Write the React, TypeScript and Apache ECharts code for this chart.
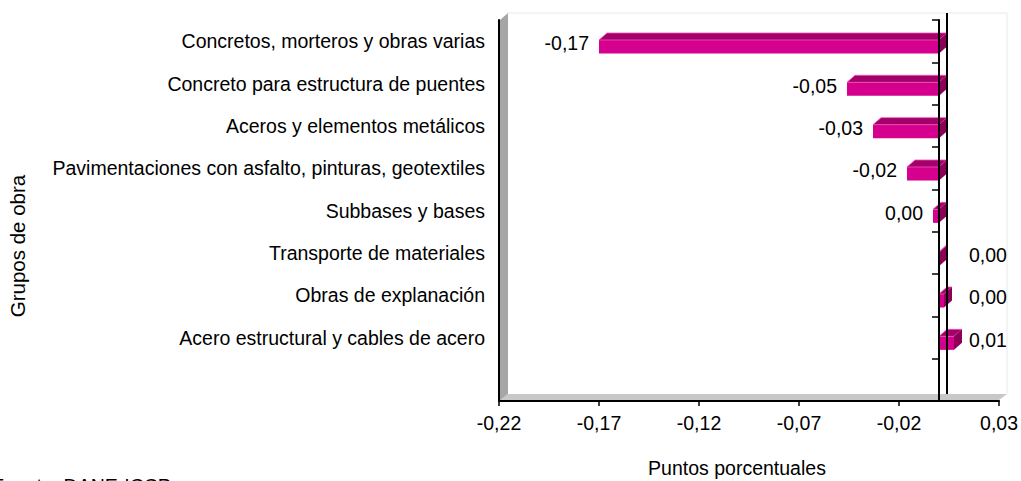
import React, { useEffect, useRef } from "react";
import * as echarts from "echarts";

// ---- data ----
const categories: string[] = [
  "Concretos, morteros y obras varias",
  "Concreto para estructura de puentes",
  "Aceros y elementos metálicos",
  "Pavimentaciones con asfalto, pinturas, geotextiles",
  "Subbases y bases",
  "Transporte de materiales",
  "Obras de explanación",
  "Acero estructural y cables de acero",
  "",
];
const values: number[] = [-0.17, -0.046, -0.033, -0.016, -0.003, 0.0005, 0.0025, 0.0075];
const xMin = -0.22;
const xMax = 0.03;
const xStep = 0.05;
const xTitle = "Puntos porcentuales";
const yTitle = "Grupos de obra";
const sourceNote = "Fuente: DANE-ICCP";

// ---- styles ----
const FONT = "'Liberation Sans', Arial, Helvetica, sans-serif";
const FS = 19.5;
const GRID = { left: 499, top: 20, right: 999, bottom: 401 };
const DX = 8;
const DY = -7;
const FRONT = "#D6008E";
const TOPC = "#A3006A";
const SIDE = "#8C0058";
const EDGE = "#F055B8";

const fmt = (v: number) => (Math.round(v * 100) / 100).toFixed(2).replace(".", ",");

export default function App() {
  const ref = useRef<HTMLDivElement>(null);
  useEffect(() => {
    if (!ref.current) return;
    const chart = echarts.init(ref.current, undefined, { renderer: "svg" });
    const option: any = {
      animation: false,
      backgroundColor: "#fff",
      grid: {
        left: GRID.left,
        top: GRID.top,
        width: GRID.right - GRID.left,
        height: GRID.bottom - GRID.top,
      },
      xAxis: {
        type: "value",
        min: xMin,
        max: xMax,
        interval: xStep,
        z: 3,
        axisLine: { show: true, onZero: false, lineStyle: { color: "#000", width: 2 } },
        axisTick: { show: true, length: 5, lineStyle: { color: "#000", width: 1.5 } },
        splitLine: { show: false },
        axisLabel: {
          formatter: (v: number) => fmt(v),
          color: "#000",
          fontFamily: FONT,
          fontSize: FS,
          margin: 12,
        },
      },
      yAxis: [
        {
          type: "category",
          data: categories,
          inverse: true,
          position: "left",
          z: 3,
          axisLine: { show: true, onZero: false, lineStyle: { color: "#000", width: 2 } },
          axisTick: { show: false },
          splitLine: { show: false },
          axisLabel: { color: "#000", fontFamily: FONT, fontSize: FS, margin: 14 },
        },
        {
          type: "category",
          data: categories,
          inverse: true,
          position: "left",
          z: 5,
          axisLine: { show: true, onZero: true, lineStyle: { color: "#000", width: 2 } },
          axisTick: { show: true, length: 7, lineStyle: { color: "#000", width: 1.5 } },
          axisLabel: { show: false },
          splitLine: { show: false },
        },
      ],
      series: [
        {
          type: "custom",
          xAxisIndex: 0,
          yAxisIndex: 0,
          z: 2,
          encode: { x: 0, y: 1 },
          data: values.map((v, i) => [v, i]),
          renderItem: (params: any, api: any) => {
            const v = api.value(0) as number;
            const ci = api.value(1) as number;
            const p0 = api.coord([0, ci]);
            const p1 = api.coord([v, ci]);
            const band = api.size([0, 1])[1];
            const c = p0[1];
            const top = c - band * 0.028;
            const h = band * 0.32;
            const bot = top + h;
            const xl = Math.min(p0[0], p1[0]);
            const xr = Math.max(p0[0], p1[0]);
            const label =
              v < 0
                ? {
                    type: "text",
                    x: xl - 10,
                    y: c + 2,
                    style: { text: fmt(v), fill: "#000", font: `${FS}px ${FONT}`, align: "right", verticalAlign: "middle" },
                  }
                : {
                    type: "text",
                    x: Math.max(p0[0] + 30, xr + DX + 6),
                    y: c + 2,
                    style: { text: fmt(v), fill: "#000", font: `${FS}px ${FONT}`, align: "left", verticalAlign: "middle" },
                  };
            return {
              type: "group",
              children: [
                {
                  type: "rect",
                  shape: { x: xl, y: top, width: Math.max(xr - xl, 0.5), height: h },
                  style: { fill: FRONT },
                },
                {
                  type: "polygon",
                  shape: { points: [[xl, top], [xr, top], [xr + DX, top + DY], [xl + DX, top + DY]] },
                  style: { fill: TOPC, stroke: EDGE, lineWidth: 0.8 },
                },
                {
                  type: "polygon",
                  shape: { points: [[xr, top], [xr + DX, top + DY], [xr + DX, bot + DY], [xr, bot]] },
                  style: { fill: SIDE },
                },
                label,
              ],
            };
          },
        },
      ],
    };
    chart.setOption(option);

    const zeroX = chart.convertToPixel({ xAxisIndex: 0 }, 0) as number;
    const L = GRID.left, R = GRID.right, T = GRID.top, B = GRID.bottom;
    chart.setOption({
      graphic: {
        elements: [
          {
            type: "polygon",
            z: 1,
            shape: { points: [[L + 1, T], [L + 1 + DX, T + DY], [L + 1 + DX, B + DY], [L + 1, B]] },
            style: { fill: "#A6A6A6" },
          },
          {
            type: "polygon",
            z: 1,
            shape: { points: [[L + 1, B - 1], [R, B - 1], [R + DX, B + DY], [L + 1 + DX, B + DY]] },
            style: { fill: "#C8C8C8" },
          },
          {
            type: "polyline",
            z: 1,
            shape: { points: [[L + DX, T + DY], [R + DX, T + DY], [R + DX, B + DY]] },
            style: { stroke: "#E8E8E8", lineWidth: 1, fill: null },
          },
          {
            type: "line",
            z: 10,
            shape: { x1: zeroX + DX, y1: T + DY, x2: zeroX + DX, y2: B + DY },
            style: { stroke: "#000", lineWidth: 2 },
          },
          {
            type: "text",
            z: 10,
            x: 737,
            y: 468,
            style: { text: xTitle, fill: "#000", font: `${FS}px ${FONT}`, align: "center", verticalAlign: "middle" },
          },
          {
            type: "text",
            z: 10,
            x: 17,
            y: 246,
            rotation: Math.PI / 2,
            style: { text: yTitle, fill: "#000", font: `20.5px ${FONT}`, align: "center", verticalAlign: "middle" },
          },
          {
            type: "text",
            z: 10,
            x: -8,
            y: 486,
            style: { text: sourceNote, fill: "#000", font: `${FS}px ${FONT}`, align: "left", verticalAlign: "middle" },
          },
        ],
      },
    });

    return () => chart.dispose();
  }, []);
  return (
    <div
      ref={ref}
      style={{ position: "fixed", left: 0, top: 0, width: 1021, height: 481, background: "#fff" }}
    />
  );
}
